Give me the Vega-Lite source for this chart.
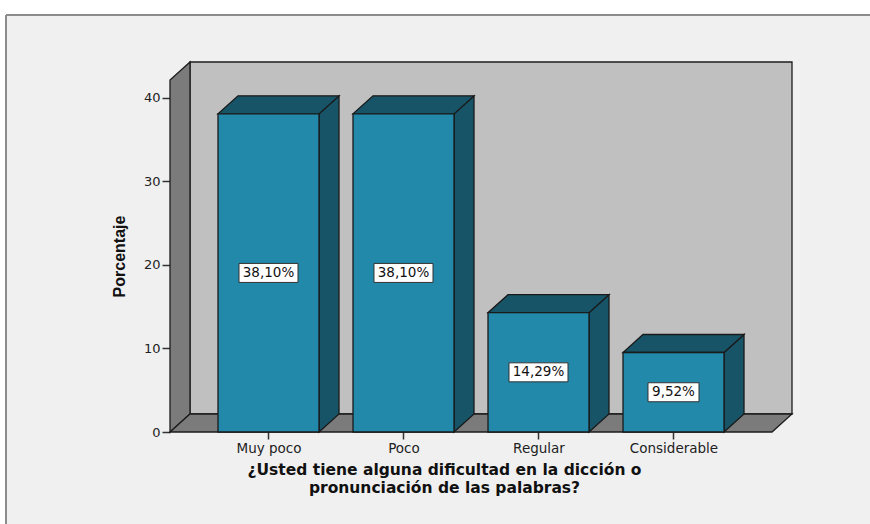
{
  "$schema": "https://vega.github.io/schema/vega-lite/v6.json",
  "width": 622,
  "height": 370,
  "autosize": {"type": "none"},
  "padding": {"left": 170, "top": 62, "right": 78, "bottom": 92},
  "background": "#f0f0f0",
  "config": {
    "view": {"stroke": null},
    "axisX": {
      "zindex": 1,
      "domain": false, "grid": false,
      "tickSize": 7, "tickColor": "#333333", "tickWidth": 1.5,
      "labelFont": "DejaVu Sans", "labelFontSize": 13.5, "labelColor": "#222222", "labelPadding": 2,
      "titleFont": "DejaVu Sans", "titleFontWeight": "bold", "titleFontSize": 15.5, "titleColor": "#111111",
      "titleX": 274, "titleY": 30, "titleAlign": "center", "titleBaseline": "top", "titleLineHeight": 18
    },
    "axisY": {
      "zindex": 1,
      "domain": false, "grid": false,
      "tickSize": 8, "tickColor": "#333333", "tickWidth": 1.5,
      "labelFont": "DejaVu Sans", "labelFontSize": 13, "labelColor": "#222222", "labelPadding": 2,
      "titleFont": "Liberation Sans", "titleFontWeight": "bold", "titleFontSize": 16, "titleColor": "#111111",
      "titleX": -50.5, "titleY": 194, "titleAngle": 270, "titleAlign": "center", "titleBaseline": "middle"
    }
  },
  "datasets": {
    "barras": [
      {"categoria": "Muy poco", "porcentaje": 38.10},
      {"categoria": "Poco", "porcentaje": 38.10},
      {"categoria": "Regular", "porcentaje": 14.29},
      {"categoria": "Considerable", "porcentaje": 9.52}
    ],
    "pared": [{"esquina": 0}, {"esquina": 1}],
    "piso": [{"esquina": 0}, {"esquina": 1}, {"esquina": 2}, {"esquina": 3}]
  },
  "layer": [
    {
      "data": {"name": "barras"},
      "transform": [
        {"window": [{"op": "row_number", "as": "orden"}]},
        {"calculate": "datum.orden - 1", "as": "centro"},
        {"calculate": "datum.centro - 0.374074", "as": "xa"},
        {"calculate": "datum.centro + 0.374074", "as": "xb"}
      ],
      "mark": {"type": "rect", "fill": "#2389aa", "opacity": 0},
      "encoding": {
        "x": {
          "field": "xa", "type": "quantitative",
          "scale": {"domain": [-0.72963, 3.87778], "nice": false, "zero": false},
          "axis": {
            "values": [0, 1, 2, 3],
            "labelExpr": "['Muy poco', 'Poco', 'Regular', 'Considerable'][datum.value]",
            "title": ["¿Usted tiene alguna dificultad en la dicción o", "pronunciación de las palabras?"]
          }
        },
        "x2": {"field": "xb"},
        "y": {
          "field": "porcentaje", "type": "quantitative",
          "scale": {"domain": [0, 44.311], "nice": false, "zero": false},
          "axis": {"values": [0, 10, 20, 30, 40], "title": "Porcentaje"}
        },
        "y2": {"datum": 0}
      }
    },
    {
      "data": {"values": [{}]},
      "mark": {"type": "rect", "fill": "white"},
      "encoding": {
        "x": {"datum": -3, "type": "quantitative"},
        "x2": {"datum": 6},
        "y": {"datum": 49.95, "type": "quantitative"},
        "y2": {"datum": 60}
      }
    },
    {
      "data": {"values": [{}]},
      "mark": {"type": "rect", "fill": "white"},
      "encoding": {
        "x": {"datum": -3, "type": "quantitative"},
        "x2": {"datum": -1.9444},
        "y": {"datum": -15, "type": "quantitative"},
        "y2": {"datum": 60}
      }
    },
    {
      "data": {"values": [{}]},
      "mark": {"type": "rule", "stroke": "#8c8c8c", "strokeWidth": 2},
      "encoding": {
        "x": {"datum": -1.9444, "type": "quantitative"},
        "x2": {"datum": 6},
        "y": {"datum": 49.95, "type": "quantitative"}
      }
    },
    {
      "data": {"values": [{}]},
      "mark": {"type": "rule", "stroke": "#8c8c8c", "strokeWidth": 2},
      "encoding": {
        "x": {"datum": -1.9444, "type": "quantitative"},
        "y": {"datum": -15, "type": "quantitative"},
        "y2": {"datum": 49.95}
      }
    },
    {
      "data": {"values": [{}]},
      "mark": {"type": "rect", "fill": "#c0c0c0", "stroke": "#1c1c1c", "strokeWidth": 1.3},
      "encoding": {
        "x": {"datum": -0.58148, "type": "quantitative"},
        "x2": {"datum": 3.87778},
        "y": {"datum": 2.15569, "type": "quantitative"},
        "y2": {"datum": 44.311}
      }
    },
    {
      "data": {"name": "pared"},
      "transform": [
        {"calculate": "[-0.72963, -0.58148][datum.esquina]", "as": "px"},
        {"calculate": "[0, 2.15569][datum.esquina]", "as": "py"},
        {"calculate": "[42.155, 44.311][datum.esquina]", "as": "py2"}
      ],
      "mark": {"type": "area", "orient": "vertical", "fill": "#7b7b7b", "stroke": "#1c1c1c", "strokeWidth": 1.3},
      "encoding": {
        "x": {"field": "px", "type": "quantitative"},
        "y": {"field": "py", "type": "quantitative", "stack": null},
        "y2": {"field": "py2"}
      }
    },
    {
      "data": {"name": "piso"},
      "transform": [
        {"calculate": "[-0.72963, -0.58148, 3.72963, 3.87778][datum.esquina]", "as": "px"},
        {"calculate": "[0, 0, 0, 2.15569][datum.esquina]", "as": "py"},
        {"calculate": "[0, 2.15569, 2.15569, 2.15569][datum.esquina]", "as": "py2"}
      ],
      "mark": {"type": "area", "orient": "vertical", "fill": "#7b7b7b", "stroke": "#1c1c1c", "strokeWidth": 1.3},
      "encoding": {
        "x": {"field": "px", "type": "quantitative"},
        "y": {"field": "py", "type": "quantitative", "stack": null},
        "y2": {"field": "py2"}
      }
    },
    {
      "data": {"name": "barras"},
      "transform": [
        {"window": [{"op": "row_number", "as": "orden"}]},
        {"calculate": "datum.orden - 1", "as": "centro"},
        {"calculate": "[0, 1]", "as": "vertice"},
        {"flatten": ["vertice"]},
        {"calculate": "datum.centro + 0.374074 + datum.vertice * 0.148148", "as": "px"},
        {"calculate": "datum.vertice * 2.15569", "as": "py"},
        {"calculate": "datum.porcentaje + datum.vertice * 2.15569", "as": "py2"}
      ],
      "mark": {"type": "area", "orient": "vertical", "fill": "#175468", "stroke": "#1a1a1a", "strokeWidth": 1.3},
      "encoding": {
        "x": {"field": "px", "type": "quantitative"},
        "y": {"field": "py", "type": "quantitative", "stack": null},
        "y2": {"field": "py2"},
        "detail": {"field": "categoria"}
      }
    },
    {
      "data": {"name": "barras"},
      "transform": [
        {"window": [{"op": "row_number", "as": "orden"}]},
        {"calculate": "datum.orden - 1", "as": "centro"},
        {"calculate": "[0, 1, 2, 3]", "as": "vertice"},
        {"flatten": ["vertice"]},
        {"calculate": "datum.centro + [-0.374074, -0.225926, 0.374074, 0.522222][datum.vertice]", "as": "px"},
        {"calculate": "datum.porcentaje + [0, 0, 0, 2.15569][datum.vertice]", "as": "py"},
        {"calculate": "datum.porcentaje + [0, 2.15569, 2.15569, 2.15569][datum.vertice]", "as": "py2"}
      ],
      "mark": {"type": "area", "orient": "vertical", "fill": "#175468", "stroke": "#1a1a1a", "strokeWidth": 1.3},
      "encoding": {
        "x": {"field": "px", "type": "quantitative"},
        "y": {"field": "py", "type": "quantitative", "stack": null},
        "y2": {"field": "py2"},
        "detail": {"field": "categoria"}
      }
    },
    {
      "data": {"name": "barras"},
      "transform": [
        {"window": [{"op": "row_number", "as": "orden"}]},
        {"calculate": "datum.orden - 1", "as": "centro"},
        {"calculate": "datum.centro - 0.374074", "as": "xa"},
        {"calculate": "datum.centro + 0.374074", "as": "xb"}
      ],
      "mark": {"type": "rect", "fill": "#2389aa", "stroke": "#1a1a1a", "strokeWidth": 1.3},
      "encoding": {
        "x": {"field": "xa", "type": "quantitative"},
        "x2": {"field": "xb"},
        "y": {"field": "porcentaje", "type": "quantitative"},
        "y2": {"datum": 0}
      }
    },
    {
      "data": {"name": "barras"},
      "transform": [
        {"window": [{"op": "row_number", "as": "orden"}]},
        {"calculate": "datum.orden - 1", "as": "centro"},
        {"calculate": "replace(format(datum.porcentaje, '.2f'), '.', ',') + '%'", "as": "etiqueta"},
        {"calculate": "(8 * length(datum.etiqueta) + 11) / 270", "as": "semiancho"},
        {"calculate": "datum.centro - datum.semiancho", "as": "xa"},
        {"calculate": "datum.centro + datum.semiancho", "as": "xb"},
        {"calculate": "datum.porcentaje / 2 - 1.1377", "as": "ya"},
        {"calculate": "datum.porcentaje / 2 + 1.1377", "as": "yb"}
      ],
      "mark": {"type": "rect", "fill": "white", "stroke": "#333333", "strokeWidth": 1},
      "encoding": {
        "x": {"field": "xa", "type": "quantitative"},
        "x2": {"field": "xb"},
        "y": {"field": "ya", "type": "quantitative"},
        "y2": {"field": "yb"}
      }
    },
    {
      "data": {"name": "barras"},
      "transform": [
        {"window": [{"op": "row_number", "as": "orden"}]},
        {"calculate": "datum.orden - 1", "as": "centro"},
        {"calculate": "replace(format(datum.porcentaje, '.2f'), '.', ',') + '%'", "as": "etiqueta"},
        {"calculate": "datum.porcentaje / 2", "as": "medio"}
      ],
      "mark": {"type": "text", "font": "DejaVu Sans", "fontSize": 13.5, "color": "#111111", "align": "center", "baseline": "middle"},
      "encoding": {
        "x": {"field": "centro", "type": "quantitative"},
        "y": {"field": "medio", "type": "quantitative"},
        "text": {"field": "etiqueta"}
      }
    }
  ]
}
